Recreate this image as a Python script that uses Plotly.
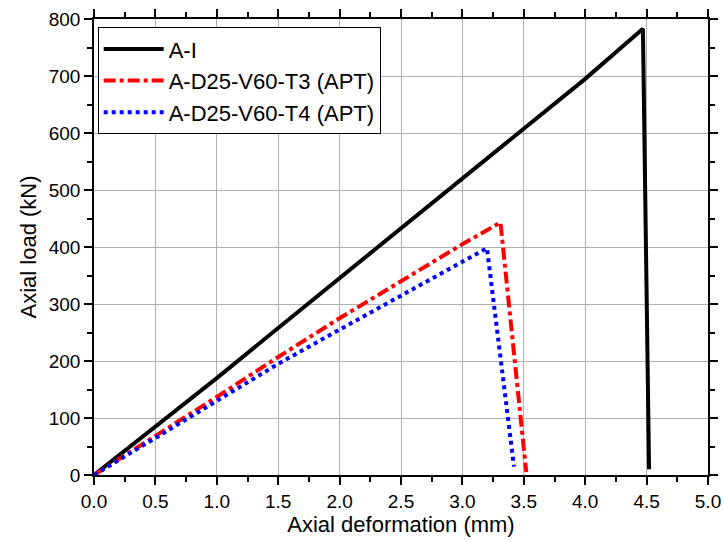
import plotly.graph_objects as go

ai_x = [0, 0.5, 1.0, 1.5, 2.0, 2.5, 3.0, 3.5, 4.0, 4.47, 4.52]
ai_y = [0, 85, 170, 258, 345, 432, 520, 608, 695, 783, 10]

t3_x = [0, 0.5, 1.0, 1.5, 2.0, 2.5, 3.0, 3.31, 3.52]
t3_y = [0, 68, 137, 207, 275, 340, 405, 443, 5]

t4_x = [0, 0.5, 1.0, 1.5, 2.0, 2.5, 3.0, 3.2, 3.42]
t4_y = [0, 65, 130, 195, 255, 315, 373, 398, 15]

names = ["A-I", "A-D25-V60-T3 (APT)", "A-D25-V60-T4 (APT)"]

fig = go.Figure()
fig.add_trace(go.Scatter(x=ai_x, y=ai_y, mode="lines", name=names[0],
                         line=dict(color="black", width=4, dash="solid")))
fig.add_trace(go.Scatter(x=t3_x, y=t3_y, mode="lines", name=names[1],
                         line=dict(color="red", width=4, dash="dashdot")))
fig.add_trace(go.Scatter(x=t4_x, y=t4_y, mode="lines", name=names[2],
                         line=dict(color="blue", width=4, dash="dot")))

font = "Liberation Sans, Arial, sans-serif"
fig.update_layout(
    width=724, height=542,
    margin=dict(l=94, r=16, t=19, b=67, autoexpand=False),
    plot_bgcolor="white", paper_bgcolor="white",
    font=dict(family=font, color="black", size=19),
    legend=dict(x=0.006, y=0.982, xanchor="left", yanchor="top",
                bordercolor="black", borderwidth=1, bgcolor="white",
                font=dict(size=22), tracegroupgap=0, itemwidth=60),
    showlegend=True,
)
fig.update_xaxes(
    range=[0, 5], dtick=0.5, tickformat=".1f", automargin=False,
    showline=True, linecolor="black", linewidth=1.5, mirror="ticks",
    ticks="outside", ticklen=8, tickwidth=1.5, tickcolor="black",
    showgrid=True, gridcolor="#b0b0b0", gridwidth=1, zeroline=False,
    minor=dict(dtick=0.25, ticks="outside", ticklen=5, tickcolor="black", showgrid=False),
    title=dict(text="Axial deformation (mm)", font=dict(size=22), standoff=4),
    tickfont=dict(size=19),
)
fig.update_yaxes(
    range=[0, 800], dtick=100, automargin=False,
    showline=True, linecolor="black", linewidth=1.5, mirror="ticks",
    ticks="outside", ticklen=8, tickwidth=1.5, tickcolor="black",
    showgrid=True, gridcolor="#b0b0b0", gridwidth=1, zeroline=False,
    minor=dict(dtick=50, ticks="outside", ticklen=5, tickcolor="black", showgrid=False),
    title=dict(text="Axial load (kN)", font=dict(size=22), standoff=6),
    tickfont=dict(size=19),
)
fig.write_html("out.html")
